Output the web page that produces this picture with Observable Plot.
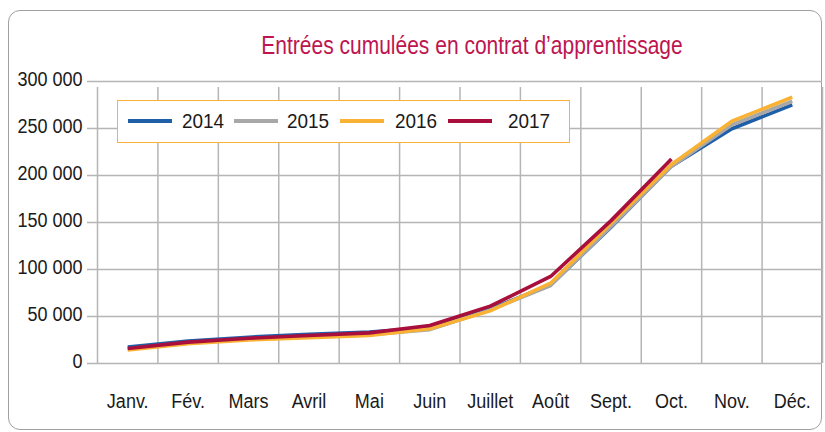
<!DOCTYPE html>
<html>
<head>
<meta charset="utf-8">
<script src="https://cdn.jsdelivr.net/npm/d3@7"></script>
<script src="https://cdn.jsdelivr.net/npm/@observablehq/plot@0.6"></script>
<style>
  html, body { margin: 0; padding: 0; background: #fff; }
  #wrap { position: relative; width: 825px; height: 432px; overflow: hidden;
          font-family: "Liberation Sans", Arial, sans-serif; }
  #frame { position: absolute; left: 8px; top: 10px; width: 814px; height: 420px;
           border: 1.2px solid #a0a0a0; border-radius: 12px; box-sizing: border-box; }
  #title { position: absolute; left: 472px; top: 31px; transform: translateX(-50%) scaleX(0.84);
           color: #BE1550; font-size: 25px; white-space: nowrap; }
  #legend { position: absolute; left: 117px; top: 100px; width: 453px; height: 43px;
            border: 1.5px solid #F9B233; box-sizing: border-box; background: #fff; }
  .li { position: absolute; top: 0; height: 40px; display: flex; align-items: center; }
  .li span.sw { display: inline-block; width: 44px; height: 3.5px; }
  .li span.lb { font-size: 21px; color: #1a1a1a; display: inline-block; transform: scaleX(0.9); transform-origin: left center; }
  #chart { position: absolute; left: 0; top: 0; }
</style>
</head>
<body>
<div id="wrap">
  <div id="frame"></div>
  <div id="chart"></div>
  <div id="title"></div>
  <div id="legend"></div>
</div>
<script>
const title = "Entrées cumulées en contrat d’apprentissage";
const months = ["Janv.","Fév.","Mars","Avril","Mai","Juin","Juillet","Août","Sept.","Oct.","Nov.","Déc."];
const years = ["2014","2015","2016","2017"];
const colors = ["#1F5FA8","#A8A8A8","#F9B233","#A90F3D"];
const v2014 = [17500, 24000, 28000, 31000, 33500, 38000, 58000, 83500, 145000, 210000, 249700, 275200];
const v2015 = [15500, 22000, 26000, 28500, 30500, 36000, 57000, 83000, 145800, 209600, 254000, 279000];
const v2016 = [14500, 21000, 25000, 27500, 29800, 36900, 56000, 85400, 149300, 211700, 257800, 283300];
const v2017 = [16000, 22700, 26900, 29800, 32600, 40400, 61000, 92600, 152000, 217500];
const yTicks = [0, 50000, 100000, 150000, 200000, 250000, 300000];

const series = [v2014, v2015, v2016, v2017];
const rows = [];
series.forEach((vals, s) => vals.forEach((v, i) => rows.push({year: years[s], i, value: v})));
const bounds = d3.range(months.length + 1).map(k => k - 0.5);

const fmt = v => d3.format(",")(v).replace(/,/g, " ");

const plot = Plot.plot({
  width: 825,
  height: 432,
  marginLeft: 97,
  marginRight: 3,
  marginTop: 81,
  marginBottom: 69,
  style: {fontFamily: '"Liberation Sans", Arial, sans-serif', fontSize: "20px", background: "transparent", color: "#1a1a1a"},
  x: {type: "linear", domain: [-0.5, months.length - 0.5], axis: null},
  y: {domain: [0, 300000], axis: null},
  color: {domain: years, range: colors},
  marks: [
    Plot.ruleY(yTicks, {stroke: "#b5b5b5", strokeWidth: 1.5, insetLeft: -10}),
    Plot.ruleX(bounds, {y1: 0, y2: 300000, stroke: "#b5b5b5", strokeWidth: 1.5, insetBottom: -6}),
    Plot.text(yTicks, {x: -0.5, y: d => d, text: fmt, textAnchor: "end", dx: -15, dy: -2, fill: "#1a1a1a"}),
    Plot.text(months, {x: (d, i) => i, y: 0, text: d => d, dy: 38, fill: "#1a1a1a"}),
    Plot.line(rows, {x: "i", y: "value", z: "year", stroke: "year", strokeWidth: 3.6, strokeLinejoin: "miter", strokeLinecap: "butt"})
  ]
});
document.getElementById("chart").appendChild(plot);

// condense the glyphs horizontally (keeps each text's anchor and position)
plot.querySelectorAll("text").forEach(t => {
  const w = t.getComputedTextLength();
  if (w > 0) {
    t.setAttribute("textLength", (w * 0.9).toFixed(2));
    t.setAttribute("lengthAdjust", "spacingAndGlyphs");
  }
});

document.getElementById("title").textContent = title;
const legPos = [[10, 64], [116, 169], [222, 277], [330, 390]];
const leg = document.getElementById("legend");
years.forEach((y, k) => {
  const d = document.createElement("div");
  d.className = "li";
  d.style.left = legPos[k][0] + "px";
  d.innerHTML = `<span class="sw" style="background:${colors[k]}"></span><span class="lb" style="margin-left:${legPos[k][1]-legPos[k][0]-44}px">${y}</span>`;
  leg.appendChild(d);
});
</script>
</body>
</html>
